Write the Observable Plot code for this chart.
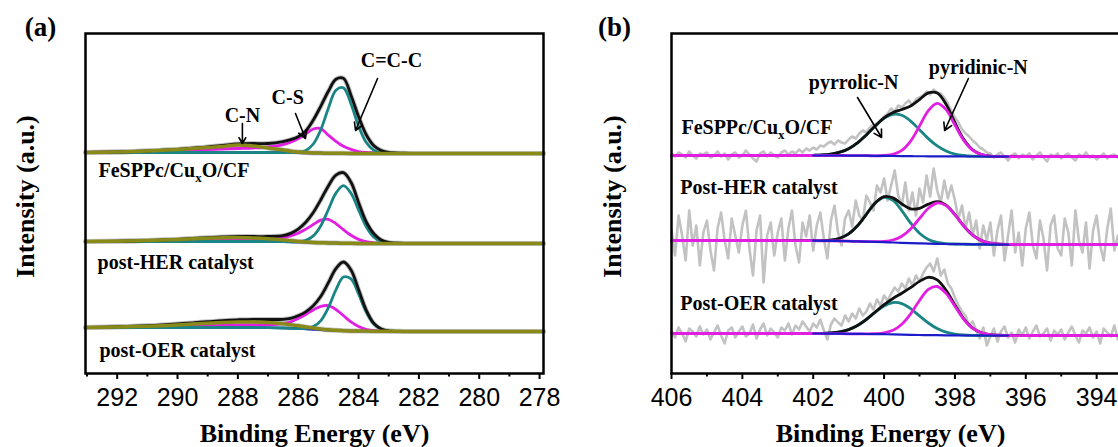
<!DOCTYPE html>
<html><head><meta charset="utf-8">
<script src="https://cdn.jsdelivr.net/npm/d3@7"></script>
<script src="https://cdn.jsdelivr.net/npm/@observablehq/plot@0.6"></script>
<style>
html,body{margin:0;padding:0;background:#fff;overflow:hidden;}
#wrap{position:relative;width:1118px;height:447px;overflow:hidden;background:#fff;}
#pa{position:absolute;left:0;top:0;width:560px;height:447px;}
#pb{position:absolute;left:560px;top:0;width:620px;height:447px;}
#wrap svg{max-width:none !important;}
</style></head><body><div id="wrap"><div id="pa"></div><div id="pb"></div></div>
<script>
// ---------------- Panel (a): C 1s ----------------
const EA = [293.05,292,291,290.5,290,289.5,289,288.5,288,287.5,287,286.5,286.25,286,285.75,285.5,285.25,285,284.75,284.5,284.25,284,283.75,283.5,283.25,283,282.5,282,281,280,279,277.87];
const samplesA = ["FeSPPc/CuxO/CF","post-HER catalyst","post-OER catalyst"];
const offsetA = [221,132,46];
// background (blue)
const bgA1 = [0,0,0,0,0,0,0,0,0,0,0,-0.1,-0.2,-0.3,-0.4,-0.5,-0.6,-0.7,-0.8,-0.85,-0.9,-1,-1,-1,-1,-1,-1,-1,-1,-1,-1,-1];
const bgA2 = [0,0,0,0,0,0,0,0,0,0,0,-0.2,-0.4,-0.6,-0.8,-1,-1.2,-1.4,-1.6,-1.7,-1.8,-1.9,-2,-2,-2,-2,-2,-2,-2,-2,-2,-2];
const bgA3 = [0,0,0,0,0,0,0,0,0,0,-0.2,-0.5,-0.8,-1.1,-1.5,-1.9,-2.3,-2.7,-3,-3.2,-3.4,-3.5,-3.6,-3.7,-3.8,-3.8,-3.9,-4,-4,-4,-4,-4];
// C=C-C (teal)
const ccA1 = [0,0,0,0,0,0,0,0,0,0,0,0,0.1,0.5,2.5,9,23.5,45,63,65.5,49.5,27.5,11.3,3.4,0.7,0.1,0,0,0,0,0,0];
const ccA2 = [0,0,0,0,0,0,0,0,0,0,0,0,0,0.4,2,6.6,17,33.4,50,57.5,50,33.4,17,6.6,2,0.4,0,0,0,0,0,0];
const ccA3 = [0,0,0,0,0,0,0,0,0,0,0,0,0,0,0.6,2.8,9.2,22.6,40.7,53.7,52,37,19.4,7.4,2.1,0.4,0,0,0,0,0,0];
// C-S (magenta)
const csA1 = [0,0.5,1,1.5,2,2.5,3,3.5,4,4.5,5.5,8,10.5,14,19,24,24.5,18,12,7,4,2,1,0.5,0.2,0,0,0,0,0,0,0];
const csA2 = [0,0.2,0.4,0.5,0.6,1,1.2,1.5,1.7,2,2.5,4,6,9,13,18,22.5,23.5,19.5,13.5,8,4,1.8,0.7,0.2,0,0,0,0,0,0,0];
const csA3 = [0,0.3,0.6,0.8,1,1.3,1.6,2,2.3,2.6,3,4.5,6.5,10,14.5,19.5,23.5,24.5,21,15,9,4.5,1.8,0.6,0.2,0,0,0,0,0,0,0];
// C-N (olive)
const cnA1 = [0,0.5,1.5,2.2,3,4,5,6,7.5,6.5,4.5,2.5,1.5,0.8,0.3,0,0,0,0,0,0,0,0,0,0,0,0,0,0,0,0,0];
const cnA2 = [0,0.3,1,1.5,2,2.7,3.3,3.8,4,3.6,2.8,1.8,1.2,0.7,0.3,0,0,0,0,0,0,0,0,0,0,0,0,0,0,0,0,0];
const cnA3 = [0,0.5,1.2,1.8,2.6,3.4,4.2,4.9,5.4,5.6,5.2,4.2,3.5,2.8,2,1.3,0.8,0.4,0.2,0,0,0,0,0,0,0,0,0,0,0,0,0];
// envelope (black)
const envA1 = [0,0.5,1.5,2.3,3.2,4.3,5.5,7,8.5,9,9,11,13,16,22,33,47,62,74,75,58,37,19,8,3,1,0.3,0,0,0,0,0];
const envA2 = [0,0.3,1,1.5,2.2,3,3.8,4.5,5,5,5,6,8.5,13,20,30,43,57,68,70.5,61,41,22,10,3.5,1,0.2,0,0,0,0,0];
const envA3 = [0,0.8,1.8,2.6,3.6,4.7,5.8,6.9,7.7,8.2,8.2,8.7,10,12.8,17.1,23.6,33.5,47.5,61.9,68.7,61,41.5,21.2,8,2.3,0.4,0,0,0,0,0,0];
const ticksA = [292,290,288,286,284,282,280,278];
const minorA = [293,291,289,287,285,283,281,279];
const annLabelA = ["C=C-C","C-S","C-N"];
const annXA = [282.91,286.35,287.85];
const annYA = [313,276,258];
const arrX1A = [283.37,286.09,287.85], arrY1A = [295,260,250];
const arrX2A = [284.10,285.76,287.85], arrY2A = [243,235,230];
const sampleXA = [292.62,292.65,292.59], sampleYA = [203,111,23];

// ---------------- Panel (b): N 1s ----------------
const EB = [406,405,404,403,402.5,402,401.75,401.5,401.25,401,400.75,400.5,400.25,400,399.75,399.5,399.25,399,398.75,398.5,398.25,398,397.75,397.5,397.25,397,396.5,396,395,394,393,392];
const samplesB = ["FeSPPc/CuxO/CF","Post-HER catalyst","Post-OER catalyst"];
const offsetB = [218,133,40];
const bgB1 = [0,0,0,0,0,0,0,0,0,-0.1,-0.15,-0.2,-0.3,-0.4,-0.5,-0.6,-0.7,-0.75,-0.8,-0.85,-0.9,-0.95,-1,-1,-1,-1,-1,-1,-1,-1,-1,-1];
const bgB2 = [0,0,0,0,-0.1,-0.2,-0.3,-0.4,-0.5,-0.7,-0.9,-1.1,-1.4,-1.7,-2,-2.3,-2.6,-2.9,-3.1,-3.3,-3.5,-3.6,-3.7,-3.8,-3.9,-4,-4,-4,-4,-4,-4,-4];
const bgB3 = [0,0,0,0,0,0,0,-0.1,-0.2,-0.3,-0.4,-0.5,-0.6,-0.7,-0.9,-1.1,-1.3,-1.5,-1.6,-1.7,-1.8,-1.9,-2,-2,-2,-2,-2,-2,-2,-2,-2,-2];
// pyrrolic-N (teal)
const pyrB1 = [0,0,0,0,0,0.2,0.5,1.4,3.3,6.9,12.8,20.8,29.8,37.6,41.7,40.8,35.1,26.6,17.7,10.4,5.4,2.4,1,0.3,0.1,0,0,0,0,0,0,0];
const pyrB2 = [0,0,0,0,0,0,0.2,0.8,2.8,7.3,15.6,27.3,38.8,44.8,42.1,32.2,20,10.1,4.2,1.4,0.4,0.1,0,0,0,0,0,0,0,0,0,0];
const pyrB3 = [0,0,0,0,0,0.1,0.2,0.7,1.8,4.2,8.4,14.5,21.7,28.2,31.8,31,26.1,19.1,12.1,6.6,3.1,1.3,0.5,0.1,0,0,0,0,0,0,0,0];
// pyridinic-N (magenta)
const pydB1 = [0,0,0,0,0,0,0,0,0,0,0,0,0,0.4,1.7,5.8,15.1,30.1,45.7,53,46.8,31.4,16.1,6.3,1.9,0.4,0,0,0,0,0,0];
const pydB2 = [0,0,0,0,0,0,0,0,0,0,0,0,0.2,0.8,2.5,6.6,14.2,24.9,35.3,40.8,38.4,29.3,18.2,9.2,3.8,1.3,0.1,0,0,0,0,0];
const pydB3 = [0,0,0,0,0,0,0,0,0,0,0,0.1,0.4,1.3,4.1,10.4,21,34.5,45.7,48.7,41.9,29.1,16.2,7.3,2.7,0.8,0,0,0,0,0,0];
// envelope (black)
const envB1 = [0,0,0,0,0,0.2,0.5,1.4,3.3,6.9,12.8,20.8,29.8,38,43.4,46.6,50.2,56.7,63.4,63.4,52.2,33.8,17.1,6.6,2,0.4,0,0,0,0,0,0];
const envB2 = [0,0,0,0,0,0,0.2,0.8,2.8,7.3,15.6,27.3,39,45.6,44.6,38.8,34.2,35,39.5,42.2,38.8,29.4,18.2,9.2,3.8,1.3,0.1,0,0,0,0,0];
const envB3 = [0,0,0,0,0,0.1,0.2,0.7,1.8,4.2,8.4,14.6,22.1,29.5,35.9,41.4,47.1,53.6,57.8,55.3,45,30.4,16.7,7.4,2.7,0.8,0,0,0,0,0,0];
// raw spectra (grey), sampled every 0.1 eV from 406.0 eV
const rawStartB = 406.0, rawStepB = 0.1;
const rawB1 = [2,-1,3,1,-2,4,0,-3,2,1, 3,-2,0,4,-1,2,-4,1,3,-2, 0,5,1,-3,-6,2,4,-1,3,0, -2,3,5,1,4,2,6,3,7,5,
  8,6,10,9,12,14,11,15,13,12, 16,19,17,22,25,23,28,31,30,35, 39,42,47,44,50,48,52,55,50,56, 58,60,64,61,66,63,62,58,52,45,
  38,33,26,22,19,15,12,8,6,3, 2,-2,1,3,-1,-5,0,2,-3,1, -1,2,-4,0,3,-2,-6,1,-1,2, -3,0,2,-2,-5,1,-1,3,-2,0,
  -4,-1,2,-3,0,1,-2,-5,0,2, -1,-3,1,-2,0,-1];
const rawB2 = [10,-15,25,5,-20,30,-5,15,-25,8, 20,-10,-30,12,28,0,-18,22,5,-12, 15,30,-8,-35,10,25,-42,5,18,-15, 8,22,-20,12,30,-5,-22,18,4,25,
  -10,15,28,2,-18,20,35,8,-5,22, 30,14,40,25,20,45,38,30,55,48, 62,40,55,70,45,35,58,30,48,25, 52,38,65,44,72,50,38,60,42,55,
  40,22,35,12,28,5,20,-8,15,0, 18,-15,10,25,-20,5,30,-12,8,-25, 12,28,-5,-18,20,2,-30,15,25,-8, -15,22,8,-25,30,0,-12,18,-28,10,
  25,-5,-20,12,32,-10,5,-22,18,28, -8,15,-18,5,20,-12];
const rawB3 = [3,-4,6,0,-8,5,2,-3,7,-1, 4,-6,1,8,-2,-10,3,6,-4,2, 7,-3,0,9,-5,4,10,-2,5,1, -4,6,3,10,-1,8,4,12,7,2,
  10,6,14,3,-6,9,15,11,8,18, 12,20,15,25,18,22,30,24,34,28, 38,33,40,46,42,50,45,55,48,58, 52,60,66,70,62,75,58,64,50,45,
  36,28,22,18,8,12,3,-5,6,-12, -3,5,-8,2,7,-4,1,-9,4,-2, 6,-5,2,8,-3,0,5,-7,3,-1, 4,-6,1,7,-2,-9,3,0,6,-4,
  2,-10,5,1,-3,8,-6,2,4,-8, 1,6,-3,0,-7,3];
const ticksB = [406,404,402,400,398,396,394,392];
const minorB = [405,403,401,399,397,395,393];
const annLabelB = ["pyrrolic-N","pyridinic-N"];
const annXB = [400.86,397.34], annYB = [291,306];
const arrX1B = [400.75,397.62], arrY1B = [276,295];
const arrX2B = [400.07,398.29], arrY2B = [236,243];
const sampleXB = [405.72,405.75,405.75], sampleYB = [246,186,70];

// ---------------- build tables ----------------
function rowsFor(E, off, bgs, comps, from, to) {
  const out = [];
  comps.forEach((c, s) => {
    for (let i = (from ?? 0); i <= (to ?? E.length - 1); i++) {
      out.push({E: E[i], y: off[s] + bgs[s][i] + (c ? c[i] : 0), s});
    }
  });
  return out;
}
const bgsA = [bgA1,bgA2,bgA3];
const A_bg = rowsFor(EA, offsetA, bgsA, [null,null,null]);
const A_cc = rowsFor(EA, offsetA, bgsA, [ccA1,ccA2,ccA3]);
const A_cs = rowsFor(EA, offsetA, bgsA, [csA1,csA2,csA3]);
const A_cn = rowsFor(EA, offsetA, bgsA, [cnA1,cnA2,cnA3]);
const A_env = rowsFor(EA, offsetA, bgsA, [envA1,envA2,envA3]);

const bgsB = [bgB1,bgB2,bgB3];
const B_bg = rowsFor(EB, offsetB, bgsB, [null,null,null], 5, 26);
const B_pyr = rowsFor(EB, offsetB, bgsB, [pyrB1,pyrB2,pyrB3]);
const B_pyd = rowsFor(EB, offsetB, bgsB, [pydB1,pydB2,pydB3]);
const B_env = rowsFor(EB, offsetB, bgsB, [envB1,envB2,envB3], 3, 28);
const B_raw = [];
[rawB1, rawB2, rawB3].forEach((r, s) => r.forEach((v, i) => B_raw.push({E: rawStartB - rawStepB * i, y: offsetB[s] + v, s})));

const serif = "'Liberation Serif','Times New Roman',serif";
const sans = "'Liberation Sans',Arial,sans-serif";
const TEAL = "#1b8585", MAG = "#e21ee2", OLIVE = "#8a8a18", BLUE = "#1c1cc8", GREY = "#c2c2c2";
const curve = "catmull-rom";
const T = {fontWeight: "bold", fontFamily: serif, fill: "#000"};
const M = {textAnchor: "middle", lineAnchor: "middle"};

const plotA = Plot.plot({
  width: 560, height: 447,
  marginLeft: 85, marginRight: 17, marginTop: 33, marginBottom: 74,
  x: {domain: [293.05, 277.87]},
  y: {domain: [0, 340], axis: null},
  style: {background: "transparent", overflow: "visible"},
  marks: [
    Plot.line(A_env, {x: "E", y: "y", z: "s", stroke: GREY, strokeWidth: 4.8, curve}),
    Plot.line(A_cn, {x: "E", y: "y", z: "s", stroke: GREY, strokeWidth: 5, curve}),
    Plot.line(A_bg, {x: "E", y: "y", z: "s", stroke: BLUE, strokeWidth: 2.5, curve}),
    Plot.line(A_cs, {x: "E", y: "y", z: "s", stroke: MAG, strokeWidth: 2.8, curve}),
    Plot.line(A_cc, {x: "E", y: "y", z: "s", stroke: TEAL, strokeWidth: 2.8, curve}),
    Plot.line(A_env, {x: "E", y: "y", z: "s", stroke: "#111", strokeWidth: 2.8, curve}),
    Plot.line(A_cn, {x: "E", y: "y", z: "s", stroke: OLIVE, strokeWidth: 3.5, curve}),
    Plot.frame({stroke: "#000", strokeWidth: 2.5}),
    Plot.axisX(ticksA, {anchor: "bottom", tickSize: 6, tickPadding: 9, strokeWidth: 2, tickFormat: d => String(d), fontSize: 25, fontFamily: sans, fill: "#000", label: null}),
    Plot.axisX(minorA, {anchor: "bottom", tickSize: 3.5, strokeWidth: 2, tickFormat: () => "", label: null}),
    Plot.arrow(annLabelA.map((l, i) => ({x1: arrX1A[i], y1: arrY1A[i], x2: arrX2A[i], y2: arrY2A[i]})), {x1: "x1", y1: "y1", x2: "x2", y2: "y2", stroke: "#000", strokeWidth: 1.6, headLength: 8}),
    Plot.text(annLabelA.map((l, i) => ({l, x: annXA[i], y: annYA[i]})), {x: "x", y: "y", text: "l", fontSize: 20, ...T}),
    Plot.text(samplesA.map((l, i) => ({l, x: sampleXA[i], y: sampleYA[i]})), {x: "x", y: "y", text: "l", textAnchor: "start", fontSize: 20, ...T}),
    Plot.text(["(a)"], {frameAnchor: "top-left", text: d => d, dx: -45, dy: -6, fontSize: 27, ...T, ...M}),
    Plot.text(["Intensity (a.u.)"], {frameAnchor: "left", text: d => d, dx: -60, dy: -7, rotate: -90, fontSize: 26, ...T, ...M}),
    Plot.text(["Binding Energy (eV)"], {frameAnchor: "bottom", text: d => d, dy: 60, fontSize: 26, ...T, ...M})
  ]
});

const plotB = Plot.plot({
  width: 620, height: 447,
  marginLeft: 111, marginRight: 13, marginTop: 33, marginBottom: 74,
  x: {domain: [406, 392]},
  y: {domain: [0, 340], axis: null},
  style: {background: "transparent", overflow: "visible"},
  marks: [
    Plot.line(B_raw, {x: "E", y: "y", z: "s", stroke: GREY, strokeWidth: 2.6}),
    Plot.line(B_pyr, {x: "E", y: "y", z: "s", stroke: TEAL, strokeWidth: 2.8, curve}),
    Plot.line(B_env, {x: "E", y: "y", z: "s", stroke: "#111", strokeWidth: 2.8, curve}),
    Plot.line(B_pyd, {x: "E", y: "y", z: "s", stroke: MAG, strokeWidth: 2.8, curve}),
    Plot.line(B_bg, {x: "E", y: "y", z: "s", stroke: BLUE, strokeWidth: 2.2, curve}),
    Plot.frame({stroke: "#000", strokeWidth: 2.5}),
    Plot.axisX(ticksB, {anchor: "bottom", tickSize: 6, tickPadding: 9, strokeWidth: 2, tickFormat: d => String(d), fontSize: 25, fontFamily: sans, fill: "#000", label: null}),
    Plot.axisX(minorB, {anchor: "bottom", tickSize: 3.5, strokeWidth: 2, tickFormat: () => "", label: null}),
    Plot.arrow(annLabelB.map((l, i) => ({x1: arrX1B[i], y1: arrY1B[i], x2: arrX2B[i], y2: arrY2B[i]})), {x1: "x1", y1: "y1", x2: "x2", y2: "y2", stroke: "#000", strokeWidth: 1.6, headLength: 8}),
    Plot.text(annLabelB.map((l, i) => ({l, x: annXB[i], y: annYB[i]})), {x: "x", y: "y", text: "l", fontSize: 20, ...T}),
    Plot.text(samplesB.map((l, i) => ({l, x: sampleXB[i], y: sampleYB[i]})), {x: "x", y: "y", text: "l", textAnchor: "start", fontSize: 20, ...T}),
    Plot.text(["(b)"], {frameAnchor: "top-left", text: d => d, dx: -57, dy: -6, fontSize: 27, ...T, ...M}),
    Plot.text(["Intensity (a.u.)"], {frameAnchor: "left", text: d => d, dx: -59, dy: -7, rotate: -90, fontSize: 26, ...T, ...M}),
    Plot.text(["Binding Energy (eV)"], {frameAnchor: "bottom-left", text: d => d, dx: 219, dy: 60, fontSize: 26, ...T, ...M})
  ]
});

function subscriptFix(svg) {
  const ns = "http://www.w3.org/2000/svg";
  svg.querySelectorAll("text").forEach(t => {
    if (t.textContent === "FeSPPc/CuxO/CF") {
      while (t.firstChild) t.removeChild(t.firstChild);
      const a = document.createElementNS(ns, "tspan"); a.textContent = "FeSPPc/Cu";
      const b = document.createElementNS(ns, "tspan"); b.textContent = "x"; b.setAttribute("dy", "5"); b.setAttribute("font-size", "13");
      const c = document.createElementNS(ns, "tspan"); c.textContent = "O/CF"; c.setAttribute("dy", "-5");
      t.append(a, b, c);
    }
  });
}
subscriptFix(plotA); subscriptFix(plotB);
plotA.style.maxWidth = "none"; plotB.style.maxWidth = "none";
document.getElementById("pa").appendChild(plotA);
document.getElementById("pb").appendChild(plotB);
</script></body></html>
